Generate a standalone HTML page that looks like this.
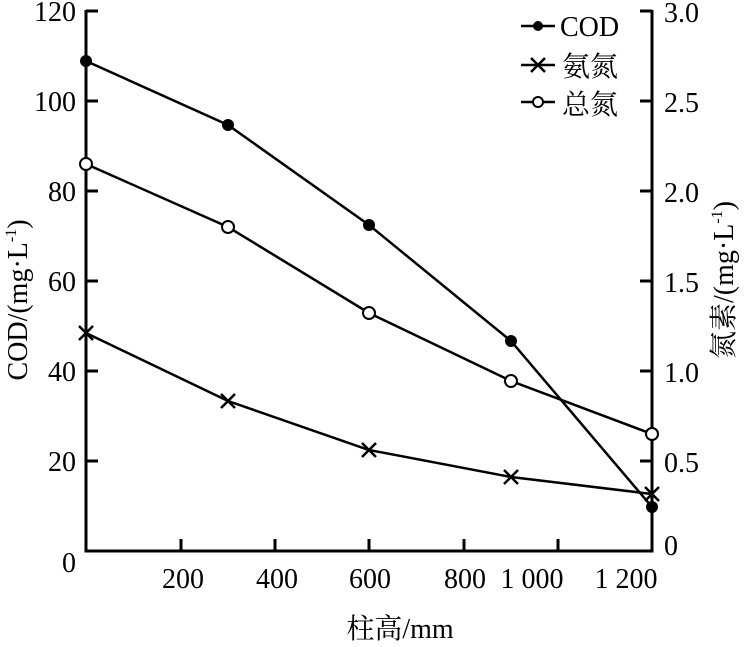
<!DOCTYPE html>
<html><head><meta charset="utf-8"><style>body{margin:0;background:#fff}</style></head><body>
<svg width="753" height="642" xmlns="http://www.w3.org/2000/svg" font-family="Liberation Serif, Noto Serif CJK SC, serif" font-size="28">
<g stroke="#000" stroke-width="3" fill="none">
<polyline points="86,10 86,551 652,551 652,10"/>
<line x1="86" y1="11" x2="98" y2="11"/><line x1="86" y1="101" x2="98" y2="101"/><line x1="86" y1="191" x2="98" y2="191"/><line x1="86" y1="281" x2="98" y2="281"/><line x1="86" y1="371" x2="98" y2="371"/><line x1="86" y1="461" x2="98" y2="461"/>
<line x1="640" y1="11" x2="652" y2="11"/><line x1="640" y1="101" x2="652" y2="101"/><line x1="640" y1="191" x2="652" y2="191"/><line x1="640" y1="281" x2="652" y2="281"/><line x1="640" y1="371" x2="652" y2="371"/><line x1="640" y1="461" x2="652" y2="461"/>
<line x1="181" y1="551" x2="181" y2="539"/><line x1="275" y1="551" x2="275" y2="539"/><line x1="369" y1="551" x2="369" y2="539"/><line x1="464" y1="551" x2="464" y2="539"/><line x1="558" y1="551" x2="558" y2="539"/>
</g>
<g stroke="#000" stroke-width="2.5" fill="none">
<polyline points="86,61 228,125 369,225 511,341 652,507"/>
<polyline points="86,164 228,227 369,313 511,381 652,434"/>
<polyline points="86,333 228,401 369,450 511,477 652,494"/>
<line x1="521" y1="26" x2="555" y2="26"/><line x1="521" y1="65" x2="555" y2="65"/><line x1="521" y1="102" x2="555" y2="102"/>
</g>
<g fill="#000"><circle cx="86" cy="61" r="6"/><circle cx="228" cy="125" r="6"/><circle cx="369" cy="225" r="6"/><circle cx="511" cy="341" r="6"/><circle cx="652" cy="507" r="6"/><circle cx="538" cy="26" r="5"/></g>
<g fill="#fff" stroke="#000" stroke-width="2"><circle cx="86" cy="164" r="6"/><circle cx="228" cy="227" r="6"/><circle cx="369" cy="313" r="6"/><circle cx="511" cy="381" r="6"/><circle cx="652" cy="434" r="6"/><circle cx="538" cy="102" r="5"/></g>
<g stroke="#000" stroke-width="2.5">
<path d="M79,326l14,14M93,326l-14,14M221,394l14,14M235,394l-14,14M362,443l14,14M376,443l-14,14M504,470l14,14M518,470l-14,14M645,487l14,14M659,487l-14,14M531,58l14,14M545,58l-14,14"/>
</g>
<g text-anchor="end"><text x="76" y="21">120</text><text x="76" y="111">100</text><text x="76" y="201">80</text><text x="76" y="291">60</text><text x="76" y="381">40</text><text x="76" y="471">20</text><text x="76" y="572">0</text></g>
<g><text x="664" y="22">3.0</text><text x="664" y="112">2.5</text><text x="664" y="202">2.0</text><text x="664" y="292">1.5</text><text x="664" y="382">1.0</text><text x="664" y="472">0.5</text><text x="664" y="555">0</text></g>
<g text-anchor="middle"><text x="183" y="588">200</text><text x="277" y="588">400</text><text x="370" y="588">600</text><text x="465" y="588">800</text><text x="532" y="588">1 000</text><text x="626" y="588">1 200</text>
<text x="400" y="638">柱高/mm</text></g>
<text x="560" y="36">COD</text><text x="562" y="76">氨氮</text><text x="562" y="114">总氮</text>
<text transform="translate(27,300) rotate(-90)" text-anchor="middle">COD/(mg·L<tspan font-size="16" dy="-11">-1</tspan><tspan dy="11">)</tspan></text>
<text transform="translate(733,280) rotate(-90)" text-anchor="middle">氮素/(mg·L<tspan font-size="16" dy="-11">-1</tspan><tspan dy="11">)</tspan></text>
</svg>
</body></html>
